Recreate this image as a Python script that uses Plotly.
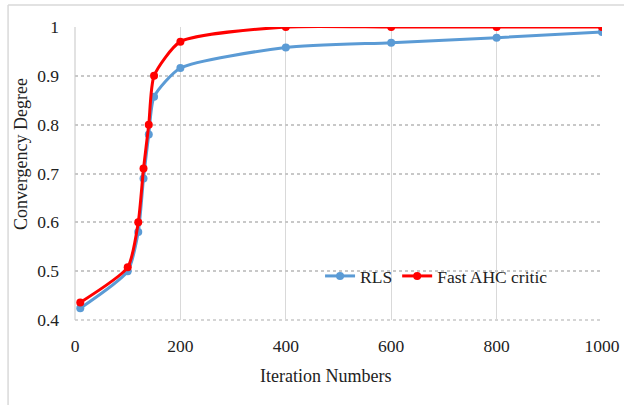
import plotly.graph_objects as go

iterations = [10, 100, 120, 130, 140, 150, 200, 400, 600, 800, 1000]
rls = [0.424, 0.50, 0.58, 0.69, 0.78, 0.857, 0.916, 0.958, 0.968, 0.978, 0.99]
fast_ahc = [0.436, 0.508, 0.60, 0.71, 0.80, 0.90, 0.97, 1.0, 1.0, 1.0, 1.0]

x_ticks = [0, 200, 400, 600, 800, 1000]
y_ticks = [0.4, 0.5, 0.6, 0.7, 0.8, 0.9, 1.0]
y_labels = ["0.4", "0.5", "0.6", "0.7", "0.8", "0.9", "1"]

font = "Liberation Serif"
tick_font = dict(family=font, size=17.5, color="#222")

fig = go.Figure()
fig.add_trace(go.Scatter(
    x=iterations, y=rls, name="RLS", mode="lines+markers",
    line=dict(color="#5B9BD5", width=3, shape="spline", smoothing=0.6),
    marker=dict(color="#5B9BD5", size=8),
))
fig.add_trace(go.Scatter(
    x=iterations, y=fast_ahc, name="Fast AHC critic", mode="lines+markers",
    line=dict(color="#FF0000", width=3, shape="spline", smoothing=0.6),
    marker=dict(color="#FF0000", size=8),
))

fig.update_layout(
    template="none",
    width=624, height=405,
    margin=dict(l=75, r=22, t=27, b=85, autoexpand=False),
    paper_bgcolor="white", plot_bgcolor="white",
    font=dict(family=font, size=17, color="#222"),
    showlegend=True,
    legend=dict(
        x=0.465, y=0.15, xanchor="left", yanchor="middle",
        orientation="h", bgcolor="rgba(0,0,0,0)",
        font=dict(family=font, size=17.5, color="#222"),
        tracegroupgap=0,
    ),
    xaxis=dict(
        range=[0, 1000], tickvals=x_ticks, tickfont=tick_font,
        showgrid=True, gridcolor="#D9D9D9", gridwidth=1,
        zeroline=False, showline=False, automargin=False,
        ticks="", ticklabelstandoff=13,
    ),
    yaxis=dict(
        range=[0.4, 1.0], tickvals=y_ticks, ticktext=y_labels, tickfont=tick_font,
        showgrid=True, gridcolor="#C8C8C8", gridwidth=1.5, griddash="dot",
        zeroline=False, showline=False, automargin=False,
        ticks="", ticklabelstandoff=15,
    ),
    annotations=[
        dict(text="Iteration Numbers", xref="paper", yref="paper", x=0.476, y=-0.191,
             xanchor="center", yanchor="middle", showarrow=False,
             font=dict(family=font, size=18, color="#222")),
        dict(text="Convergency Degree", xref="paper", yref="paper", x=-0.102, y=0.567,
             xanchor="center", yanchor="middle", showarrow=False, textangle=-90,
             font=dict(family=font, size=18, color="#222")),
    ],
    shapes=[
        dict(type="line", xref="paper", yref="paper", x0=0, x1=0, y0=0, y1=1,
             line=dict(color="#D9D9D9", width=1.5), layer="below"),
        dict(type="line", xref="paper", yref="paper", x0=0, x1=1, y0=0, y1=0,
             line=dict(color="#C8C8C8", width=1.5, dash="dot"), layer="below"),
        dict(type="line", xref="paper", yref="paper", x0=-0.127, x1=-0.127, y0=-0.3, y1=1.075,
             line=dict(color="#D9D9D9", width=1.5)),
        dict(type="line", xref="paper", yref="paper", x0=-0.127, x1=1.05, y0=1.075, y1=1.075,
             line=dict(color="#D9D9D9", width=1.5)),
    ],
)

fig.write_html(
    "out.html",
    config={"displayModeBar": False},
    post_script="document.body.style.margin='0';document.body.style.overflow='hidden';",
)
